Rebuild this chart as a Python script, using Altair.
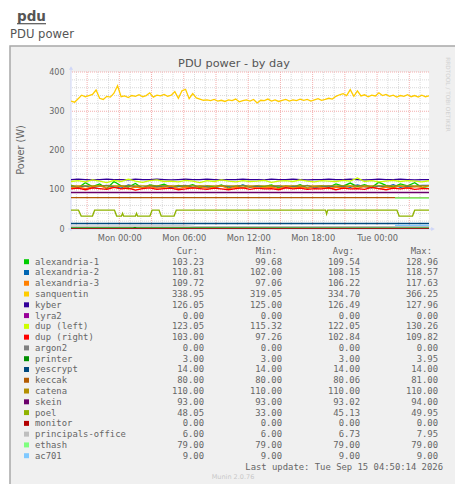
import altair as alt
import pandas as pd

# ---------------- data ----------------
T0, T1 = 19.5, 52 + 50 / 60  # hours since Sun 00:00 (Sun 19:30 .. Tue 04:50)

names = ["alexandria-1", "alexandria-2", "alexandria-3", "sanquentin", "kyber", "lyra2",
         "dup (left)", "dup (right)", "argon2", "printer", "yescrypt", "keccak", "catena",
         "skein", "poel", "monitor", "principals-office", "ethash", "ac701"]
colors = ["#00CC00", "#0066B3", "#FF8000", "#FFCC00", "#330099", "#990099", "#CCFF00",
          "#FF0000", "#808080", "#008F00", "#00487D", "#B35A00", "#B38F00", "#6B006B",
          "#8FB300", "#B30000", "#BEBEBE", "#80FF80", "#80C9FF"]
cur_vals = [103.23, 110.81, 109.72, 338.95, 126.05, 0.00, 123.05, 103.00, 0.00, 3.00, 14.00,
            80.00, 110.00, 93.00, 48.05, 0.00, 6.00, 79.00, 9.00]
min_vals = [99.68, 102.00, 97.06, 319.05, 125.00, 0.00, 115.32, 97.26, 0.00, 3.00, 14.00,
            80.00, 110.00, 93.00, 33.00, 0.00, 6.00, 79.00, 9.00]
avg_vals = [109.54, 108.15, 106.22, 334.70, 126.49, 0.00, 122.05, 102.84, 0.00, 3.00, 14.00,
            80.06, 110.00, 93.02, 45.13, 0.00, 6.73, 79.00, 9.00]
max_vals = [128.96, 118.57, 117.63, 366.25, 127.96, 0.00, 130.26, 109.82, 0.00, 3.95, 14.00,
            81.00, 110.00, 94.00, 49.95, 0.00, 7.95, 79.00, 9.00]

sanquentin = [326, 323, 332, 341, 337, 340, 343, 354, 333, 330, 338, 336, 346, 365, 337, 339,
              335, 340, 338, 342, 337, 340, 347, 336, 341, 339, 343, 338, 341, 350, 333, 352,
              356, 332, 345, 334, 331, 328, 329, 327, 330, 326, 328, 325, 329, 327, 331, 324,
              327, 329, 326, 330, 321, 328, 327, 331, 326, 329, 325, 328, 330, 326, 329, 327,
              331, 328, 330, 326, 329, 332, 328, 330, 333, 331, 338, 342, 345, 340, 355, 338,
              352, 339, 342, 337, 341, 339, 347, 340, 343, 338, 341, 336, 340, 338, 342, 337,
              340, 336, 341, 337, 339]
kyber = [126, 127, 126, 125, 126, 127, 126, 126, 125, 127, 126, 126, 127, 126, 125, 126, 127,
         126, 126, 127, 126, 125, 126, 126, 127, 126, 126, 125, 127, 126, 126, 127, 126, 125,
         126, 126, 127, 126, 126, 127, 126, 125, 126, 127, 126, 126, 127, 126, 125, 126, 126]
dup_left = [121, 123, 120, 125, 122, 118, 124, 121, 127, 122, 119, 123, 125, 121, 122, 120,
            124, 122, 118, 123, 121, 125, 122, 120, 123, 121, 122, 124, 119, 122, 123, 121,
            125, 122, 120, 123, 122, 121, 124, 122, 130, 121, 123, 120, 122, 124, 121, 123,
            122, 120, 123]
alex1 = [112, 105, 118, 108, 115, 103, 121, 110, 107, 116, 104, 112, 109, 114, 106, 111, 108,
         113, 105, 110, 107, 112, 104, 109, 111, 106, 110, 108, 112, 105, 109, 107, 113, 104,
         108, 110, 106, 115, 109, 117, 108, 113, 106, 119, 111, 107, 115, 110, 118, 106, 103]
alex2 = [108, 106, 110, 105, 109, 111, 107, 104, 112, 108, 106, 109, 107, 110, 105, 108, 111,
         106, 109, 107, 104, 110, 108, 106, 112, 107, 109, 105, 108, 110, 106, 109, 107, 111,
         105, 108, 110, 107, 109, 106, 112, 108, 105, 110, 107, 113, 106, 109, 108, 111, 111]
alex3 = [105, 108, 103, 107, 110, 104, 106, 109, 102, 107, 105, 108, 104, 106, 109, 103, 107,
         105, 108, 104, 106, 110, 103, 107, 105, 108, 104, 106, 107, 103, 109, 105, 107, 104,
         108, 106, 103, 107, 105, 109, 104, 108, 106, 103, 107, 105, 110, 104, 108, 106, 110]
dup_right = [102, 104, 100, 105, 103, 101, 106, 102, 104, 99, 103, 105, 101, 103, 104, 100,
             102, 105, 103, 101, 104, 102, 100, 103, 105, 101, 104, 102, 103, 100, 105, 102,
             104, 101, 103, 102, 105, 100, 104, 102, 103, 101, 106, 103, 100, 104, 102, 105,
             101, 103, 103]

# breakpoint series: (hours, watts)
poel_t = [19.5, 20.2, 20.45, 21.5, 21.7, 23.55, 23.75, 24.2, 24.3, 24.4, 25.5, 25.6, 25.7,
          26.85, 27.05, 27.7, 27.9, 29.1, 29.3, 43.2, 43.3, 43.4, 49.85, 50.05, 51.3, 51.5, T1]
poel_w = [48, 48, 33, 33, 48, 48, 33, 33, 40, 33, 33, 40, 33,
          33, 48, 48, 33, 33, 48, 48, 38, 48, 48, 33, 33, 48, 48.05]
printer_t = [T0, 25.3, 25.45, 25.6, T1]
printer_w = [3, 3, 3.95, 3, 3]
office_t = [T0, 30.0, 31.0, 45.0, T1]
office_w = [7.5, 7.9, 6.5, 6.0, 6.0]
late_t = [49.67, T1]          # ethash / ac701 only report since Tue 01:40
flat_t = [T0, T1]

even = {"alexandria-1": alex1, "alexandria-2": alex2, "alexandria-3": alex3,
        "sanquentin": sanquentin, "kyber": kyber, "dup (left)": dup_left,
        "dup (right)": dup_right}
steps = {"lyra2": (flat_t, [0, 0]), "argon2": (flat_t, [0, 0]),
         "printer": (printer_t, printer_w), "yescrypt": (flat_t, [14, 14]),
         "keccak": (flat_t, [80, 80]), "catena": (flat_t, [110, 110]),
         "skein": (flat_t, [93, 93]), "poel": (poel_t, poel_w),
         "monitor": (flat_t, [0, 0]), "principals-office": (office_t, office_w),
         "ethash": (late_t, [79, 79]), "ac701": (late_t, [9, 9])}

rows = []
for n in names:
    if n in even:
        vals = even[n]
        k = len(vals)
        for i, v in enumerate(vals):
            rows.append({"series": n, "t": T0 + i * (T1 - T0) / (k - 1), "w": v})
    else:
        ts, ws = steps[n]
        for t, v in zip(ts, ws):
            rows.append({"series": n, "t": t, "w": v})
df = pd.DataFrame(rows)

tick_hours = [24, 30, 36, 42, 48]
tick_labels = ["Mon 00:00", "Mon 06:00", "Mon 12:00", "Mon 18:00", "Tue 00:00"]
y_ticks = [0, 100, 200, 300, 400]
minor_w = [v for v in range(20, 400, 20) if v % 100]
major_w = [100, 200, 300, 400]
minor_t = [h for h in range(20, 53) if h % 3]
major_t = [h for h in range(21, 53, 3)]

legend_df = pd.DataFrame({
    "row": list(range(len(names))), "series": names,
    "cur": [f"{v:.2f}" for v in cur_vals], "min": [f"{v:.2f}" for v in min_vals],
    "avg": [f"{v:.2f}" for v in avg_vals], "max": [f"{v:.2f}" for v in max_vals]})

# ---------------- styling ----------------
W, H = 358, 157
SANS, MONO = "DejaVu Sans", "DejaVu Sans Mono"
FONT_C = "#666666"
AXIS_C = "#CFD6F8"

label_expr = "".join(f"datum.value == {h} ? '{l}' : " for h, l in zip(tick_hours, tick_labels)) + "''"
xenc = alt.X("t:Q", scale=alt.Scale(domain=[T0, T1], nice=False, zero=False),
             axis=alt.Axis(values=tick_hours, labelExpr=label_expr, title=None, grid=False,
                           ticks=False, domain=False, labelFont=SANS, labelFontSize=8.3,
                           labelColor=FONT_C, labelPadding=4, labelOverlap=False, zindex=1))
yenc = alt.Y("w:Q", scale=alt.Scale(domain=[0, 400], nice=False),
             axis=alt.Axis(values=y_ticks, title=None, grid=False, ticks=False, domain=False,
                           labelFont=SANS, labelFontSize=8, labelColor=FONT_C, labelPadding=7,
                           zindex=1))
color_enc = alt.Color("series:N", scale=alt.Scale(domain=names, range=colors), legend=None)

one = pd.DataFrame({"a": [0]})


def text(s, x, y, size, color=FONT_C, font=SANS, align="left", angle=0, weight="normal"):
    return alt.Chart(pd.DataFrame({"s": [s]})).mark_text(
        align=align, baseline="middle", fontSize=size, font=font, color=color,
        angle=angle, fontWeight=weight).encode(x=alt.value(x), y=alt.value(y), text="s:N")


panel = alt.Chart(one).mark_rect(fill="#F0F0F0", stroke="#A8A8A8", strokeWidth=1.5).encode(
    x=alt.value(-61), x2=alt.value(386), y=alt.value(-26), y2=alt.value(416))
canvas = alt.Chart(one).mark_rect(fill="#FFFFFF").encode(
    x=alt.value(0), x2=alt.value(W), y=alt.value(0), y2=alt.value(H))

g_minor_v = alt.Chart(pd.DataFrame({"t": minor_t})).mark_rule(
    stroke="#DADADA", strokeDash=[1, 1], strokeWidth=1).encode(x=xenc)
g_major_v = alt.Chart(pd.DataFrame({"t": major_t})).mark_rule(
    stroke="#F4AEAE", strokeDash=[1, 1], strokeWidth=1).encode(x=xenc)
g_minor_h = alt.Chart(pd.DataFrame({"w": minor_w})).mark_rule(
    stroke="#DADADA", strokeDash=[1, 1], strokeWidth=1).encode(y=yenc)
g_major_h = alt.Chart(pd.DataFrame({"w": major_w})).mark_rule(
    stroke="#F4AEAE", strokeDash=[1, 1], strokeWidth=1).encode(y=yenc)

ax_y = alt.Chart(one).mark_rule(stroke=AXIS_C, strokeWidth=1).encode(
    x=alt.value(0), y=alt.value(-3), y2=alt.value(H + 2))
ax_x = alt.Chart(one).mark_rule(stroke=AXIS_C, strokeWidth=1).encode(
    y=alt.value(H), x=alt.value(-3), x2=alt.value(W + 3))
arr_y = alt.Chart(one).mark_point(shape="triangle-up", filled=True, size=18, color=AXIS_C,
                                  opacity=1).encode(x=alt.value(0), y=alt.value(-4))
arr_x = alt.Chart(one).mark_point(shape="triangle-right", filled=True, size=18, color=AXIS_C,
                                  opacity=1).encode(x=alt.value(W + 4), y=alt.value(H))

lines = alt.Chart(df).mark_line(strokeWidth=1.3, clip=True).encode(
    x=xenc, y=yenc, color=color_enc, order="t:Q")

main = alt.layer(panel, canvas, g_minor_v, g_minor_h, g_major_v, g_major_h, ax_y, ax_x,
                 arr_y, arr_x, lines)

# legend table
yrow = alt.Y("row:Q", scale=alt.Scale(domain=[0, 18], range=[189.7, 383.7], nice=False,
                                      zero=False), axis=None)
leg = alt.Chart(legend_df)
mono = dict(font=MONO, fontSize=8.9, color=FONT_C, baseline="middle")
leg_sq = leg.mark_square(size=25, opacity=1, filled=True).encode(
    x=alt.value(-44.5), y=yrow, color=color_enc)
leg_name = leg.mark_text(align="left", **mono).encode(x=alt.value(-36), y=yrow, text="series:N")
leg_cur = leg.mark_text(align="right", **mono).encode(x=alt.value(133), y=yrow, text="cur:N")
leg_min = leg.mark_text(align="right", **mono).encode(x=alt.value(211), y=yrow, text="min:N")
leg_avg = leg.mark_text(align="right", **mono).encode(x=alt.value(289), y=yrow, text="avg:N")
leg_max = leg.mark_text(align="right", **mono).encode(x=alt.value(367), y=yrow, text="max:N")
legend = alt.layer(leg_sq, leg_name, leg_cur, leg_min, leg_avg, leg_max)

annot = alt.layer(
    text("pdu", -54, -54.7, 13.5, color="#555555", weight="bold"),
    alt.Chart(one).mark_rule(stroke="#555555", strokeWidth=1.2).encode(
        x=alt.value(-54), x2=alt.value(-25), y=alt.value(-48.3)),
    text("PDU power", -61, -37, 11.6, color="#555555"),
    text("PDU power - by day", 163, -8, 11.3, color="#555555", align="center"),
    text("Power (W)", -50.3, 78, 9.7, align="center", angle=270),
    text("RRDTOOL / TOBI OETIKER", 377, 22.5, 5.8, color="#D2D2D2", align="center", angle=90),
    text("Cur:", 127, 179, 8.9, font=MONO, align="right"),
    text("Min:", 206, 179, 8.9, font=MONO, align="right"),
    text("Avg:", 283, 179, 8.9, font=MONO, align="right"),
    text("Max:", 361, 179, 8.9, font=MONO, align="right"),
    text("Last update: Tue Sep 15 04:50:14 2026", 372, 394.7, 8.9, font=MONO, align="right"),
    text("Munin 2.0.76", 162, 405.3, 6.5, color="#C8C8C8", align="center"),
)

chart = alt.layer(main, legend, annot).resolve_scale(y="independent").properties(
    width=W, height=H,
    autosize=alt.AutoSizeParams(type="none"),
    padding={"left": 63, "top": 64, "right": 26, "bottom": 255},
    background="#FFFFFF",
).configure_view(stroke=None, fill=None)

chart.save("out.html", embed_options={"renderer": "svg", "actions": False})
